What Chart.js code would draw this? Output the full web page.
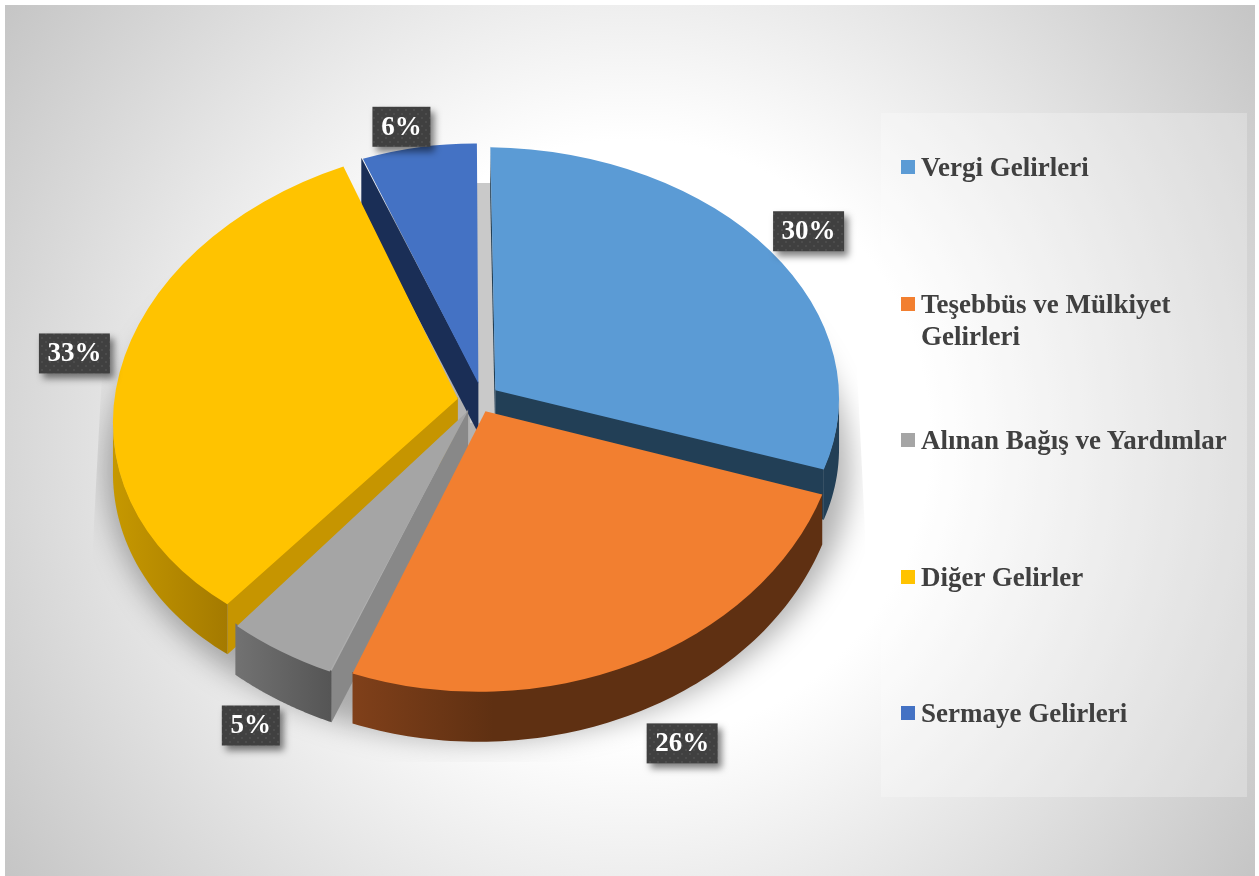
<!DOCTYPE html>
<html lang="tr">
<head>
<meta charset="utf-8">
<title>Gelirler</title>
<style>
  html, body { margin: 0; padding: 0; background: #fff; width: 1259px; height: 876px; overflow: hidden; }
  #bg { position: absolute; left: 5px; top: 5px; width: 1250px; height: 871px;
        background: radial-gradient(circle at 625px 435px, #fff 0, #fff 300px, #c5c5c5 763px); }
  #panel { position: absolute; left: 881px; top: 113px; width: 366px; height: 684px;
           background: rgba(255,255,255,.25); }
  #chart { position: absolute; left: 0; top: 0; }
  .item { position: absolute; left: 901px; width: 330px; font: bold 27px/32px "Liberation Serif", serif; color: #404040; }
  .item i { position: absolute; left: 0; top: 0; width: 14px; height: 14px; }
  .item span { display: block; margin-left: 20px; margin-top: -9px; }
</style>
</head>
<body>
<div id="bg"></div>
<div id="panel"></div>
<canvas id="chart" width="1259" height="876"></canvas>
<div id="legend"></div>
<script src="https://cdn.jsdelivr.net/npm/chart.js@4/dist/chart.umd.js"></script>
<script>
const categories = ['Vergi Gelirleri', 'Teşebbüs ve Mülkiyet Gelirleri', 'Alınan Bağış ve Yardımlar', 'Diğer Gelirler', 'Sermaye Gelirleri'];
const values = [30, 26, 5, 33, 6];
const colors = ['#5b9bd5', '#f27f30', '#a5a5a5', '#ffc300', '#4472c4'];
const edgeColors = ['#223f56', '#5f3012', '#888888', '#c69500', '#1a2e56'];
const wallLeft = ['#223f56', '#80401a', '#727272', '#c69800', '#1a2e56'];
const wallRight = ['#223f56', '#5f3012', '#555555', '#a47a00', '#1a2e56'];
const wallFadeEnd = [1, 0.3, 1, 1, 1];
const sliceNudgeX = [0, 0, 0, 0, 4];

// far slices first, so nearer ones cover their side walls
const drawOrder = [4, 0, 3, 2, 1];

// the flat pie is seen in perspective: disc coords (u,v) -> page
const view = { cx: 478, cy: 398, rx: 342, ry: 260, p: 0.074, depth: 50 };

function project(u, v) {
  const w = 1 - view.p * v;
  return { x: view.cx + view.rx * u / w, y: view.cy + view.ry * v / w };
}

function sliceGeom(arc) {
  const off = (arc.options.offset || 0) / 4;
  const mid = (arc.startAngle + arc.endAngle) / 2;
  // ArcElement.draw grows small slices by this much
  const grow = off * (1 - Math.sin(Math.min(Math.PI, arc.circumference)));
  return {
    R: arc.outerRadius + grow, mid, a1: arc.startAngle, a2: arc.endAngle,
    ox: Math.cos(mid) * off, oy: Math.sin(mid) * off,
    sx: arc.x + Math.cos(mid) * off, sy: arc.y + Math.sin(mid) * off
  };
}

function solve3(m, r) {
  const a = m.map((row, i) => row.concat(r[i]));
  for (let i = 0; i < 3; i++) {
    let piv = i;
    for (let k = i + 1; k < 3; k++) if (Math.abs(a[k][i]) > Math.abs(a[piv][i])) piv = k;
    [a[i], a[piv]] = [a[piv], a[i]];
    for (let k = 0; k < 3; k++) {
      if (k === i) continue;
      const f = a[k][i] / a[i][i];
      for (let j = i; j < 4; j++) a[k][j] -= f * a[i][j];
    }
  }
  return [a[0][3] / a[0][0], a[1][3] / a[1][1], a[2][3] / a[2][2]];
}

// best affine for one slice, so Chart.js can still draw a plain arc
function sliceAffine(arc, i) {
  const g = sliceGeom(arc);
  const pts = [];
  const add = (ang, rho, w) => {
    const ex = Math.cos(ang) * rho, ey = Math.sin(ang) * rho;
    const base = arc.outerRadius;
    const p = project(g.ox / base + ex, g.oy / base + ey);
    pts.push([g.sx + ex * g.R, g.sy + ey * g.R, p.x + sliceNudgeX[i], p.y, w]);
  };
  add(0, 0, 30);
  add(g.a1, 1, 30);
  add(g.a2, 1, 30);
  for (let k = 1; k < 12; k++) add(g.a1 + (g.a2 - g.a1) * k / 12, 1, 1);
  const m = [[0, 0, 0], [0, 0, 0], [0, 0, 0]], rx = [0, 0, 0], ry = [0, 0, 0];
  pts.forEach(([x, y, px, py, w]) => {
    const v = [x, y, 1];
    for (let n = 0; n < 3; n++) {
      for (let j = 0; j < 3; j++) m[n][j] += w * v[n] * v[j];
      rx[n] += w * v[n] * px;
      ry[n] += w * v[n] * py;
    }
  });
  const [a, c, e] = solve3(m, rx);
  const [b, d, f] = solve3(m, ry);
  return { a, b, c, d, e, f, g };
}

function drawWalls(ctx, arc, i, t) {
  const g = t.g;
  const at = (ang, rho) => {
    const x = g.sx + Math.cos(ang) * rho * g.R, y = g.sy + Math.sin(ang) * rho * g.R;
    return { x: t.a * x + t.c * y + t.e, y: t.b * x + t.d * y + t.f };
  };
  const d0 = at(0, 0), d1 = at(g.a1, 1), d2 = at(g.a2, 1);
  const h = view.depth;
  const lap = 1.5; // tuck under the top face, no light seam
  ctx.fillStyle = edgeColors[i];
  // a straight wall only shows when dropping it moves away from the slice
  [[d1, d2], [d2, d1]].forEach(([d, other]) => {
    const ex = d.x - d0.x, ey = d.y - d0.y;
    const side = ex * (other.y - d0.y) - ey * (other.x - d0.x);
    const drop = ex * h;
    if (Math.abs(ex) < 3 || side * drop > 0) return;
    ctx.beginPath();
    ctx.moveTo(d0.x, d0.y - lap);
    ctx.lineTo(d.x, d.y - lap);
    ctx.lineTo(d.x, d.y + h);
    ctx.lineTo(d0.x, d0.y + h);
    ctx.closePath();
    ctx.fill();
  });
  // round wall: only the part of the rim facing the viewer
  const rim = [];
  for (let k = 0; k <= 80; k++) {
    const ang = g.a1 + (g.a2 - g.a1) * k / 80;
    if (Math.sin(ang) > 0) rim.push(at(ang, 1));
  }
  if (rim.length < 2) return;
  const xs = rim.map(p => p.x);
  const left = Math.min(...xs), right = Math.max(...xs);
  const grad = ctx.createLinearGradient(left, 0, right, 0);
  grad.addColorStop(0, wallLeft[i]);
  grad.addColorStop(wallFadeEnd[i], wallRight[i]);
  ctx.fillStyle = grad;
  ctx.beginPath();
  rim.forEach((p, k) => k ? ctx.lineTo(p.x, p.y - lap) : ctx.moveTo(p.x, p.y - lap));
  rim.slice().reverse().forEach(p => ctx.lineTo(p.x, p.y + h));
  ctx.closePath();
  ctx.fill();
}

function drawShadow(ctx) {
  ctx.save();
  ctx.beginPath();
  ctx.moveTo(112, 183); ctx.lineTo(848, 183); ctx.lineTo(865, 530); ctx.lineTo(865, 762);
  ctx.lineTo(92, 762); ctx.lineTo(92, 560);
  ctx.closePath();
  ctx.clip();
  ctx.filter = 'blur(14px)';
  ctx.fillStyle = 'rgba(0,0,0,.3)';
  ctx.beginPath();
  ctx.ellipse(478, 470, 372, 270, 0, 0, Math.PI * 2);
  ctx.fill();
  ctx.restore();
  // hard top of the shadow, seen only in the gap behind the exploded slices
  ctx.fillStyle = '#c9c9c9';
  ctx.fillRect(470, 183, 30, 240);
}

const dots = document.createElement('canvas');
dots.width = dots.height = 8;
(function () {
  const d = dots.getContext('2d');
  d.fillStyle = '#404040';
  d.fillRect(0, 0, 8, 8);
  d.fillStyle = '#4c4c4c';
  d.fillRect(1, 1, 2, 2);
  d.fillRect(5, 5, 2, 2);
})();

const pie3d = {
  id: 'pie3d',
  beforeDatasetDraw(chart, args) {
    const ctx = chart.ctx;
    drawShadow(ctx);
    drawOrder.forEach(i => {
      const arc = args.meta.data[i];
      const t = sliceAffine(arc, i);
      drawWalls(ctx, arc, i, t);
      ctx.save();
      ctx.transform(t.a, t.b, t.c, t.d, t.e, t.f);
      arc.draw(ctx, chart.chartArea);
      ctx.restore();
    });
    return false;
  },
  afterDatasetsDraw(chart) {
    const ctx = chart.ctx;
    const arcs = chart.getDatasetMeta(0).data;
    ctx.save();
    ctx.font = 'bold 27px "Liberation Serif", serif';
    ctx.textAlign = 'center';
    ctx.textBaseline = 'middle';
    arcs.forEach((arc, i) => {
      const g = sliceGeom(arc);
      const below = Math.max(0, Math.sin(g.mid));
      const p = project(Math.cos(g.mid) * 1.16, Math.sin(g.mid) * 1.16);
      const lx = view.cx + view.rx * Math.cos(g.mid) * 1.16 * (1.03 + 0.15 * below) + 8 * below;
      const ly = p.y + 2 + view.depth * 1.05 * below;
      const text = values[i] + '%';
      const w = Math.round(ctx.measureText(text).width) + 17;
      ctx.save();
      ctx.shadowColor = 'rgba(0,0,0,.5)';
      ctx.shadowBlur = 7;
      ctx.shadowOffsetX = 4;
      ctx.shadowOffsetY = 5;
      ctx.fillStyle = ctx.createPattern(dots, 'repeat');
      ctx.fillRect(lx - w / 2, ly - 20, w, 40);
      ctx.restore();
      ctx.fillStyle = '#fff';
      ctx.fillText(text, lx, ly + 1);
    });
    ctx.restore();
  }
};

new Chart(document.getElementById('chart'), {
  type: 'pie',
  data: {
    labels: categories,
    datasets: [{ data: values, backgroundColor: colors, borderWidth: 0, offset: 68, radius: 300 }]
  },
  options: {
    responsive: false,
    animation: false,
    events: [],
    plugins: { legend: { display: false }, tooltip: { enabled: false } }
  },
  plugins: [pie3d]
});

// legend on the right
const legendEl = document.getElementById('legend');
categories.forEach((name, i) => {
  const row = document.createElement('div');
  row.className = 'item';
  row.style.top = (160 + 136.6 * i) + 'px';
  const box = document.createElement('i');
  box.style.background = colors[i];
  const label = document.createElement('span');
  label.textContent = name;
  row.append(box, label);
  legendEl.append(row);
});
</script>
</body>
</html>
